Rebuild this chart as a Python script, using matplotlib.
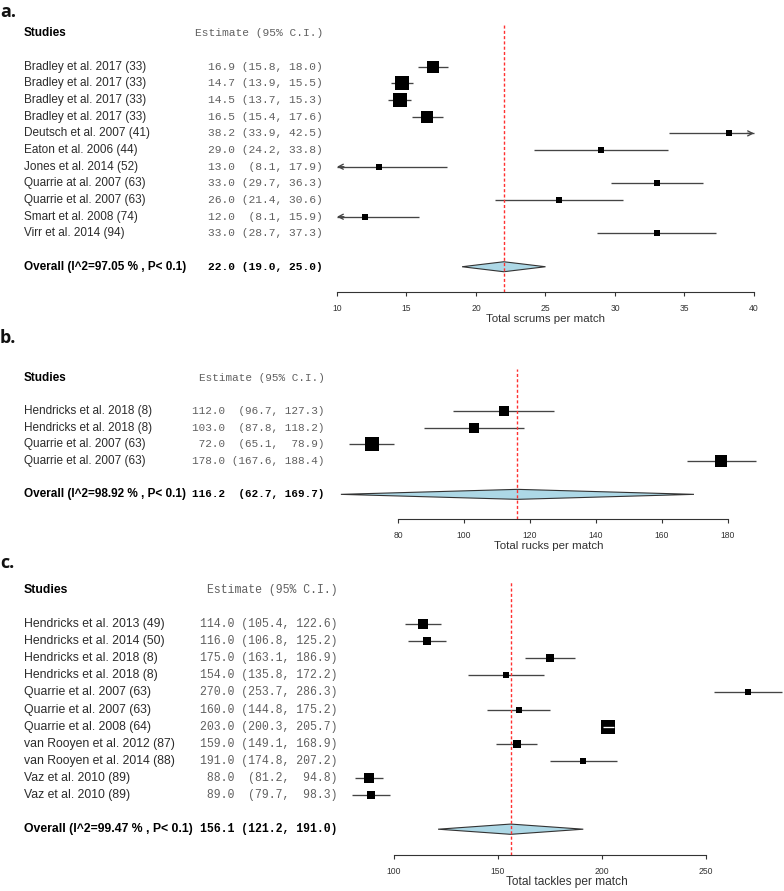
"""
Forest plots of match activity (scrums, rucks, tackles) - three panels.
"""

import matplotlib.pyplot as plt
from matplotlib.transforms import blended_transform_factory

W, H = 784, 891

# ---- panel a: scrums ----
a_studies = ["Bradley et al. 2017 (33)", "Bradley et al. 2017 (33)",
             "Bradley et al. 2017 (33)", "Bradley et al. 2017 (33)",
             "Deutsch et al. 2007 (41)", "Eaton et al. 2006 (44)",
             "Jones et al. 2014 (52)", "Quarrie at al. 2007 (63)",
             "Quarrie et al. 2007 (63)", "Smart et al. 2008 (74)",
             "Virr et al. 2014 (94)"]
a_est = [16.9, 14.7, 14.5, 16.5, 38.2, 29.0, 13.0, 33.0, 26.0, 12.0, 33.0]
a_lo = [15.8, 13.9, 13.7, 15.4, 33.9, 24.2, 8.1, 29.7, 21.4, 8.1, 28.7]
a_hi = [18.0, 15.5, 15.3, 17.6, 42.5, 33.8, 17.9, 36.3, 30.6, 15.9, 37.3]
a_weight = [15.9, 19.3, 20.1, 15.9, 4.4, 4.1, 3.6, 4.8, 3.6, 4.1, 4.1]
a_overall = (22.0, 19.0, 25.0)
a_i2 = 97.05
a_ticks = [10, 15, 20, 25, 30, 35, 40]
a_xlabel = "Total scrums per match"

# ---- panel b: rucks ----
b_studies = ["Hendricks et al. 2018 (8)", "Hendricks et al. 2018 (8)",
             "Quarrie et al. 2007 (63)", "Quarrie et al. 2007 (63)"]
b_est = [112.0, 103.0, 72.0, 178.0]
b_lo = [96.7, 87.8, 65.1, 167.6]
b_hi = [127.3, 118.2, 78.9, 188.4]
b_weight = [18.5, 17.4, 37.6, 26.6]
b_overall = (116.2, 62.7, 169.7)
b_i2 = 98.92
b_ticks = [80, 100, 120, 140, 160, 180]
b_xlabel = "Total rucks per match"

# ---- panel c: tackles ----
c_studies = ["Hendricks et al. 2013 (49)", "Hendricks et al. 2014 (50)",
             "Hendricks et al. 2018 (8)", "Hendricks et al. 2018 (8)",
             "Quarrie et al. 2007 (63)", "Quarrie et al. 2007 (63)",
             "Quarrie et al. 2008 (64)", "van Rooyen et al. 2012 (87)",
             "van Rooyen et al. 2014 (88)", "Vaz et al. 2010 (89)",
             "Vaz et al. 2010 (89)"]
c_est = [114.0, 116.0, 175.0, 154.0, 270.0, 160.0, 203.0, 159.0, 191.0, 88.0, 89.0]
c_lo = [105.4, 106.8, 163.1, 135.8, 253.7, 144.8, 200.3, 149.1, 174.8, 81.2, 79.7]
c_hi = [122.6, 125.2, 186.9, 172.2, 286.3, 175.2, 205.7, 168.9, 207.2, 94.8, 98.3]
c_weight = [10.8, 10.1, 6.7, 5.0, 4.5, 6.1, 26.2, 7.4, 4.5, 10.8, 8.0]
c_overall = (156.1, 121.2, 191.0)
c_i2 = 99.47
c_ticks = [100, 150, 200, 250]
c_xlabel = "Total tackles per match"

LABEL_COL = "#2b2b2b"
EST_COL = "#606060"
LINE_COL = "#444444"


def fmt_rows(rows):
    """Right-pad the estimate / CI strings like R's forest() does."""
    e = [f"{r[0]:.1f}" for r in rows]
    l = [f"({r[1]:.1f}," for r in rows]
    h = [f"{r[2]:.1f})" for r in rows]
    we, wl, wh = max(map(len, e)), max(map(len, l)), max(map(len, h))
    return [f"{a.rjust(we)} {b.rjust(wl)} {c.rjust(wh)}" for a, b, c in zip(e, l, h)]


def forest(fig, letter, studies, est, lo, hi, weight, overall, i2, ticks, xlabel,
           letter_y, row0, sp, est_right, xlim, clip=None, fs_sans=8.5, fs_mono=8.1):
    n = len(studies)
    x0, x1 = 337, 784
    top = row0 - 2.5 * sp
    bottom = row0 + (n + 2.5) * sp
    ax = fig.add_axes([x0 / W, 1 - bottom / H, (x1 - x0) / W, (bottom - top) / H])
    ax.set_xlim(*xlim)
    ax.set_ylim(n + 2.5, -2.5)
    ppu = (x1 - x0) / (xlim[1] - xlim[0])  # pixels per data unit

    for s in ["top", "right", "left"]:
        ax.spines[s].set_visible(False)
    ax.spines["bottom"].set_bounds(ticks[0], ticks[-1])
    ax.spines["bottom"].set_color("#333333")
    ax.spines["bottom"].set_linewidth(0.8)
    ax.set_yticks([])
    ax.set_xticks(ticks)
    ax.tick_params(axis="x", labelsize=6.2, length=3.0, width=0.8, pad=5.5,
                   color="#333333", labelcolor="#333333")
    for t in ax.get_xticklabels():
        t.set_family("Liberation Sans")

    rows = list(range(n))
    lo_c = hi_c = None
    if clip:
        lo_c, hi_c = clip
    max_w = max(weight)
    for y, e, l, h, w in zip(rows, est, lo, hi, weight):
        side = 14.3 * (w / max_w) ** 0.5
        cl = max(l, lo_c) if clip else l
        ch = min(h, hi_c) if clip else h
        inside = (h - l) * ppu < side
        ax.plot([cl, ch], [y, y], color="white" if inside else LINE_COL,
                lw=0.95, zorder=4 if inside else 2, solid_capstyle="butt")
        ax.scatter([e], [y], s=(side * 0.72) ** 2, marker="s", color="black",
                   linewidths=0, zorder=3)
        arrow = dict(arrowstyle="->,head_length=0.35,head_width=0.18",
                     color=LINE_COL, lw=0.95, shrinkA=0, shrinkB=0)
        if clip and l < lo_c:
            ax.annotate("", xy=(lo_c, y), xytext=(lo_c + 0.5, y), arrowprops=arrow)
        if clip and h > hi_c:
            ax.annotate("", xy=(hi_c, y), xytext=(hi_c - 0.5, y), arrowprops=arrow)

    # pooled estimate diamond
    oy = n + 1
    oe, ol, oh = overall
    ax.fill([ol, oe, oh, oe], [oy, oy - 0.3, oy, oy + 0.3], facecolor="#add8e6",
            edgecolor="#333333", lw=0.8, zorder=3)
    ax.axvline(oe, color="#ff3030", lw=1.0, dashes=(2.2, 1.6), zorder=5)

    # x label centred on the drawn data range
    dmin = min(lo + [ol])
    dmax = max(hi + [oh])
    if clip:
        dmin, dmax = max(dmin, lo_c), min(dmax, hi_c)
    ax.annotate(xlabel, xy=((dmin + dmax) / 2, 0), xycoords=("data", "axes fraction"),
                xytext=(0, -27 * 0.72), textcoords="offset points", ha="center",
                va="center", fontsize=fs_sans * 0.97, family="Liberation Sans",
                color="#333333")

    # left text columns
    tr = blended_transform_factory(fig.transFigure, ax.transData)
    lx = 24 / W
    ex = est_right / W
    txt = fmt_rows(list(zip(est, lo, hi)) + [overall])
    ax.text(lx, -2, "Studies", transform=tr, ha="left", va="center",
            fontsize=fs_sans, family="Liberation Sans", weight="bold", color="black")
    ax.text(ex, -2, "Estimate (95% C.I.)", transform=tr, ha="right", va="center",
            fontsize=fs_mono, family="Liberation Mono", color=EST_COL)
    for y, name, s in zip(rows, studies, txt[:-1]):
        ax.text(lx, y, name, transform=tr, ha="left", va="center",
                fontsize=fs_sans, family="Liberation Sans", color=LABEL_COL)
        ax.text(ex, y, s, transform=tr, ha="right", va="center",
                fontsize=fs_mono, family="Liberation Mono", color=EST_COL)
    ax.text(lx, oy, f"Overall (I^2={i2:.2f} % , P< 0.1)", transform=tr, ha="left",
            va="center", fontsize=fs_sans, family="Liberation Sans", weight="bold",
            color="black")
    ax.text(ex, oy, txt[-1], transform=tr, ha="right", va="center",
            fontsize=fs_mono, family="Liberation Mono", weight="bold", color="black")

    fig.text(0, 1 - letter_y / H, letter, ha="left", va="center", fontsize=13,
             family="Open Sans", weight="bold", color="#111111")
    return ax


fig = plt.figure(figsize=(W / 100, H / 100), dpi=100)

forest(fig, "a.", a_studies, a_est, a_lo, a_hi, a_weight, a_overall, a_i2,
       a_ticks, a_xlabel, letter_y=12, row0=66.7, sp=16.67, est_right=323,
       xlim=(10, 42.16), clip=(10, 40), fs_sans=8.5, fs_mono=8.1)
forest(fig, "b.", b_studies, b_est, b_lo, b_hi, b_weight, b_overall, b_i2,
       b_ticks, b_xlabel, letter_y=338, row0=411, sp=16.67, est_right=325,
       xlim=(61.52, 196.98), fs_sans=8.5, fs_mono=7.9)
forest(fig, "c.", c_studies, c_est, c_lo, c_hi, c_weight, c_overall, c_i2,
       c_ticks, c_xlabel, letter_y=563, row0=624, sp=17.1, est_right=338,
       xlim=(72.6, 287.5), fs_sans=8.8, fs_mono=8.3)

fig.savefig("out.png", dpi=100)
